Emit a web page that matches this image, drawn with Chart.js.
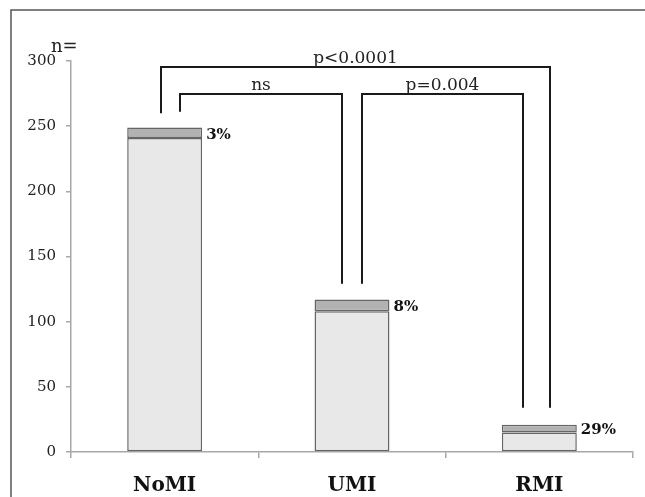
<!DOCTYPE html>
<html>
<head>
<meta charset="utf-8">
<script src="https://cdn.jsdelivr.net/npm/chart.js@4/dist/chart.umd.min.js"></script>
<style>
  html, body { margin: 0; padding: 0; background: #fff; overflow: hidden; }
  canvas { display: block; }
</style>
</head>
<body>
<canvas id="c" width="645" height="497"></canvas>
<script>
// Groups and patient counts
const categories = ['NoMI', 'UMI', 'RMI'];
const totals = [249, 117, 21];     // n per group
const events = [8, 9, 6];          // patients with the outcome
const withoutEvent = totals.map((t, i) => t - events[i]);
const yTicks = [0, 50, 100, 150, 200, 250, 300];

// Pairwise comparisons: group indices, label, bar height of the bracket, leg ends
const comparisons = [
  { from: 0, to: 2, label: 'p<0.0001', top: 295.5, fromEnd: 260, toEnd: 34, fromShift: -0.019, toShift: 0.057 },
  { from: 0, to: 1, label: 'ns',       top: 274.7, fromEnd: 261, toEnd: 129, fromShift: 0.083, toShift: -0.056 },
  { from: 1, to: 2, label: 'p=0.004',  top: 274.7, fromEnd: 129, toEnd: 34, fromShift: 0.051, toShift: -0.088 }
];

const SERIF = '"DejaVu Serif", "Liberation Serif", serif';

const decorations = {
  id: 'decorations',
  beforeDraw(chart) {
    const ctx = chart.ctx;
    ctx.save();
    ctx.strokeStyle = '#555';
    ctx.lineWidth = 1.5;
    ctx.beginPath();
    ctx.moveTo(11, 497);
    ctx.lineTo(11, 10);
    ctx.lineTo(645, 10);
    ctx.stroke();
    ctx.restore();
  },
  afterDraw(chart) {
    const ctx = chart.ctx;
    const x = chart.scales.x, y = chart.scales.y;
    const step = x.getPixelForValue(1) - x.getPixelForValue(0);
    ctx.save();

    // axis caption above the top tick
    ctx.fillStyle = '#222';
    ctx.font = '18px ' + SERIF;
    ctx.textAlign = 'left';
    ctx.textBaseline = 'alphabetic';
    ctx.fillText('n=', 51, 52);

    // percentage of events beside each bar
    ctx.fillStyle = '#111';
    ctx.font = 'bold 15px ' + SERIF;
    ctx.textBaseline = 'middle';
    const meta = chart.getDatasetMeta(1);
    categories.forEach((c, i) => {
      const bar = meta.data[i];
      const pct = Math.round(events[i] / totals[i] * 100) + '%';
      const yMid = (y.getPixelForValue(totals[i]) + y.getPixelForValue(withoutEvent[i])) / 2 + 2;
      ctx.fillText(pct, bar.x + bar.width / 2 + 4, yMid);
    });

    // significance brackets
    ctx.fillStyle = '#222';
    ctx.strokeStyle = '#1a1a1a';
    ctx.lineWidth = 2;
    ctx.font = '17px ' + SERIF;
    ctx.textAlign = 'center';
    ctx.textBaseline = 'alphabetic';
    comparisons.forEach(cmp => {
      const x1 = Math.round(x.getPixelForValue(cmp.from) + cmp.fromShift * step);
      const x2 = Math.round(x.getPixelForValue(cmp.to) + cmp.toShift * step);
      const yt = Math.round(y.getPixelForValue(cmp.top));
      ctx.beginPath();
      ctx.moveTo(x1, y.getPixelForValue(cmp.fromEnd));
      ctx.lineTo(x1, yt);
      ctx.lineTo(x2, yt);
      ctx.lineTo(x2, y.getPixelForValue(cmp.toEnd));
      ctx.stroke();
      ctx.fillText(cmp.label, (x1 + x2) / 2, yt - 4);
    });
    ctx.restore();
  }
};

new Chart(document.getElementById('c'), {
  type: 'bar',
  data: {
    labels: categories,
    datasets: [
      { label: 'no event', data: withoutEvent, backgroundColor: '#e8e8e8', borderColor: '#666', borderWidth: 1.5, borderSkipped: false },
      { label: 'event', data: events, backgroundColor: '#b2b2b2', borderColor: '#666', borderWidth: 1.5, borderSkipped: false }
    ]
  },
  options: {
    responsive: false,
    animation: false,
    devicePixelRatio: 1,
    layout: { padding: { top: 61, right: 12, left: 0, bottom: 0 } },
    datasets: { bar: { categoryPercentage: 1, barPercentage: 0.4 } },
    plugins: { legend: { display: false }, tooltip: { enabled: false } },
    scales: {
      x: {
        stacked: true,
        border: { color: '#a8a8a8', width: 1.5 },
        grid: { display: true, offset: true, drawOnChartArea: false, drawTicks: true, tickLength: 6, color: '#a8a8a8', lineWidth: 1.5 },
        ticks: { color: '#111', font: { family: SERIF, size: 20, weight: 'bold' }, padding: 16 },
        afterFit(s) { s.height = 45; }
      },
      y: {
        stacked: true,
        min: 0, max: 300,
        afterBuildTicks(s) { s.ticks = yTicks.map(v => ({ value: v })); },
        border: { color: '#a8a8a8', width: 1.5 },
        grid: { display: true, drawOnChartArea: false, drawTicks: true, tickLength: 5, color: '#a8a8a8', lineWidth: 1.5 },
        ticks: { color: '#222', font: { family: SERIF, size: 15 }, padding: 10 },
        afterFit(s) { s.width = 71; }
      }
    }
  },
  plugins: [decorations]
});
</script>
</body>
</html>
